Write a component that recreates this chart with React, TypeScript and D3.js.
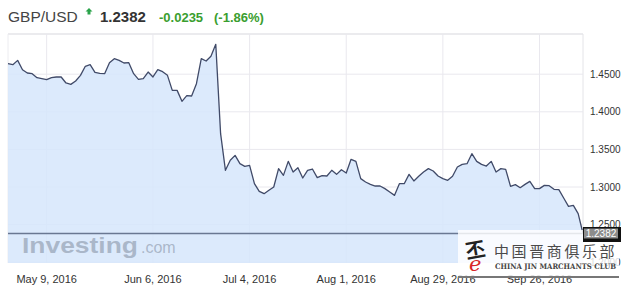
import React from "react";
import * as d3 from "d3";

const prices: number[] = [
  1.464, 1.4627, 1.4684, 1.456, 1.4516, 1.4507, 1.4454, 1.4441, 1.4427, 1.4454,
  1.4463, 1.4463, 1.4383, 1.4365, 1.441, 1.4485, 1.4605, 1.4627, 1.4525, 1.4512,
  1.4507, 1.4653, 1.4707, 1.4684, 1.4649, 1.4653, 1.4507, 1.4432, 1.4441, 1.4529,
  1.4463, 1.456, 1.4534, 1.4485, 1.4285, 1.4285, 1.4139, 1.4215, 1.421, 1.4374,
  1.4707, 1.4676, 1.4738, 1.4897, 1.3709, 1.3222, 1.3355, 1.3421, 1.331, 1.3275,
  1.3288, 1.3044, 1.2942, 1.2911, 1.2956, 1.3, 1.3244, 1.3155, 1.3341, 1.3199,
  1.3257, 1.312, 1.3222, 1.3239, 1.3124, 1.3151, 1.3146, 1.3222, 1.3168, 1.323,
  1.3186, 1.3368, 1.3341, 1.3111, 1.3066, 1.3035, 1.3013, 1.3013, 1.2978, 1.2934,
  1.2889, 1.3044, 1.3044, 1.3168, 1.308, 1.3142, 1.3199, 1.3244, 1.3213, 1.3146,
  1.3111, 1.3089, 1.3142, 1.3266, 1.3301, 1.331, 1.3443, 1.3341, 1.3301, 1.3279,
  1.3341, 1.3199, 1.3244, 1.3235, 1.3009, 1.3031, 1.2991, 1.3035, 1.3075, 1.2978,
  1.2978, 1.3022, 1.3018, 1.2969, 1.2965, 1.2854, 1.2743, 1.2756, 1.2645, 1.2382,
];
const tickIndex: number[] = [8, 30, 50, 70, 90, 110];
const tickLabels: string[] = ["May 9, 2016", "Jun 6, 2016", "Jul 4, 2016", "Aug 1, 2016", "Aug 29, 2016", "Sep 26, 2016"];
const yTicks: number[] = [1.45, 1.4, 1.35, 1.3, 1.25, 1.2];
const symbol = "GBP/USD";
const lastPrice = 1.2382;
const changeText = "-0.0235";
const changePctText = "(-1.86%)";

const FONT = "'Liberation Sans', Arial, sans-serif";

export default function App() {
  const W = 629, H = 290;
  const left = 8, right = 583, top = 34, bottom = 263;
  const x = d3.scaleLinear().domain([0, prices.length - 1]).range([left, right]);
  const y = d3.scaleLinear().domain([1.2, 1.5]).range([262.2, 36.6]);
  const area = d3.area<number>().x((_, i) => x(i)).y0(bottom).y1((d) => y(d));
  const line = d3.line<number>().x((_, i) => x(i)).y((d) => y(d));
  const green = "#3a9e2f";
  const yLast = y(lastPrice);

  return (
    <svg width={W} height={H} style={{ position: "fixed", left: 0, top: 0, background: "#fff" }} fontFamily={FONT}>
      <rect x={0} y={0} width={W} height={H} fill="#fff" />
      {/* header */}
      <text x={8} y={22} fontSize={15.5} fill="#444">{symbol}</text>
      <path d="M89,8 L92.5,11.5 L90.5,11.5 L90.5,14.5 L87.5,14.5 L87.5,11.5 L85.5,11.5 Z" fill="#2aa34a" />
      <text x={100} y={22} fontSize={15} fontWeight="bold" fill="#333">{lastPrice.toFixed(4)}</text>
      <text x={159} y={22} fontSize={13} fontWeight="bold" fill={green}>{changeText}</text>
      <text x={214} y={22} fontSize={13} fontWeight="bold" fill={green}>{changePctText}</text>

      {/* frame & grid */}
      <line x1={left} x2={right} y1={top} y2={top} stroke="#e4e4e8" strokeWidth={1.5} />
      <line x1={left} x2={left} y1={top} y2={bottom} stroke="#ececf0" strokeWidth={1} />
      <line x1={right} x2={right} y1={top} y2={bottom} stroke="#e4e4e8" strokeWidth={1} />
      {yTicks.map((t) => (
        <line key={"h" + t} x1={left} x2={right} y1={y(t)} y2={y(t)} stroke="#e9e8ee" strokeWidth={1} />
      ))}
      {tickIndex.map((t) => (
        <line key={"v" + t} x1={x(t)} x2={x(t)} y1={top} y2={bottom} stroke="#e9e8ee" strokeWidth={1} />
      ))}

      <path d={area(prices) || ""} fill="#d6e6fb" fillOpacity={0.85} />
      <path d={line(prices) || ""} fill="none" stroke="#404a68" strokeWidth={1.3} strokeLinejoin="round" />

      {/* last price line */}
      <line x1={left} x2={right} y1={yLast} y2={yLast} stroke="#6a7892" strokeWidth={1.6} />

      {/* watermark */}
      <text x={22} y={253} fontSize={22} fontWeight="bold" fill="#9aa6b8" fillOpacity={0.75} textLength={116} lengthAdjust="spacingAndGlyphs">Investing</text>
      <text x={141} y={253} fontSize={16} fill="#9aa6b8" fillOpacity={0.75}>.com</text>

      {/* y labels */}
      {yTicks.map((t) => (
        <text key={"yl" + t} x={590} y={y(t) + 3.5} fontSize={10} fill="#333">{t.toFixed(4)}</text>
      ))}
      {/* x labels */}
      {tickIndex.map((t, i) => (
        <text key={"xl" + t} x={x(t)} y={283} fontSize={11} fill="#333" textAnchor="middle">{tickLabels[i]}</text>
      ))}

      {/* logo box */}
      <rect x={458} y={230} width={161} height={47} fill="#fff" fillOpacity={0.82} />
      <rect x={458} y={276} width={161} height={2} fill="#777" />
      <text x={494} y={257} fontSize={15} fill="#4a4a4a" fontFamily="'Noto Sans CJK SC', sans-serif" letterSpacing={2.6}>中国晋商俱乐部</text>
      <text x={495} y={269} fontSize={7.6} fill="#444" fontFamily="'DejaVu Serif', 'Liberation Serif', serif" fontWeight="bold" textLength={121} lengthAdjust="spacingAndGlyphs">CHINA JIN MARCHANTS CLUB</text>
      <text x={465} y={257} fontSize={20} fill="#222" fontFamily="'Noto Sans CJK SC', sans-serif" fontWeight="bold" transform="rotate(-10 476 248)">丕</text>
      <text x={469} y={271} fontSize={21} fill="#d8262a" fontStyle="italic" fontFamily="'DejaVu Serif', serif">e</text>

      {/* last price tag */}
      <rect x={583} y={227} width={38} height={15} fill="#111" />
      <rect x={584} y={228.5} width={34} height={10} fill="#8c8c8c" />
      <text x={601} y={237} fontSize={10} fill="#fff" textAnchor="middle">{lastPrice.toFixed(4)}</text>
    </svg>
  );
}
